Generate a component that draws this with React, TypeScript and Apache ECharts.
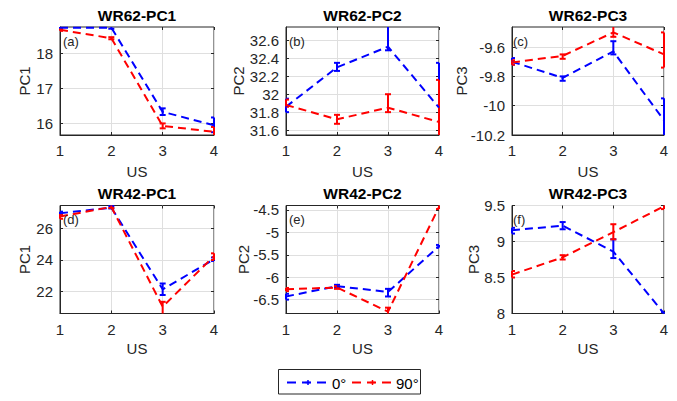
import React, { useEffect, useRef } from "react";
import * as echarts from "echarts";

// ---------- data ----------
const usLevels = [1, 2, 3, 4];

const panelTitles = ["WR62-PC1", "WR62-PC2", "WR62-PC3", "WR42-PC1", "WR42-PC2", "WR42-PC3"];
const panelYNames = ["PC1", "PC2", "PC3", "PC1", "PC2", "PC3"];
const panelLetters = ["(a)", "(b)", "(c)", "(d)", "(e)", "(f)"];
const legendNames = ["0°", "90°"];
const xAxisName = "US";

const yTicksA = [16, 17, 18];
const yTicksB = [31.6, 31.8, 32, 32.2, 32.4, 32.6];
const yTicksC = [-10.2, -10, -9.8, -9.6];
const yTicksD = [22, 24, 26];
const yTicksE = [-6.5, -6, -5.5, -5, -4.5];
const yTicksF = [8, 8.5, 9, 9.5];

const yLimitsA = [15.67, 18.75];
const yLimitsB = [31.545, 32.75];
const yLimitsC = [-10.2, -9.463];
const yLimitsD = [20.6, 27.44];
const yLimitsE = [-6.81, -4.4];
const yLimitsF = [8, 9.5];

// WR62-PC1
const wr62pc1Deg0 = [18.73, 18.73, 16.33, 15.95];
const wr62pc1Deg0Lo = [18.7, 18.7, 16.24, 15.75];
const wr62pc1Deg0Hi = [18.76, 18.76, 16.43, 16.17];
const wr62pc1Deg90 = [18.67, 18.43, 15.93, 15.76];
const wr62pc1Deg90Lo = [18.64, 18.4, 15.86, 15.6];
const wr62pc1Deg90Hi = [18.7, 18.46, 16.0, 15.9];

// WR62-PC2
const wr62pc2Deg0 = [31.86, 32.3, 32.53, 31.85];
const wr62pc2Deg0Lo = [31.8, 32.26, 32.49, 31.4];
const wr62pc2Deg0Hi = [31.95, 32.35, 32.8, 32.35];
const wr62pc2Deg90 = [31.88, 31.72, 31.85, 31.69];
const wr62pc2Deg90Lo = [31.86, 31.67, 31.8, 31.2];
const wr62pc2Deg90Hi = [31.94, 31.77, 32.0, 32.16];

// WR62-PC3
const wr62pc3Deg0 = [-9.7, -9.81, -9.63, -10.1];
const wr62pc3Deg0Lo = [-9.72, -9.83, -9.65, -10.25];
const wr62pc3Deg0Hi = [-9.675, -9.8, -9.56, -9.95];
const wr62pc3Deg90 = [-9.705, -9.66, -9.5, -9.65];
const wr62pc3Deg90Lo = [-9.72, -9.68, -9.53, -9.74];
const wr62pc3Deg90Hi = [-9.69, -9.65, -9.44, -9.5];

// WR42-PC1
const wr42pc1Deg0 = [26.95, 27.3, 22.13, 24.03];
const wr42pc1Deg0Lo = [26.85, 27.25, 21.77, 23.93];
const wr42pc1Deg0Hi = [27.05, 27.4, 22.5, 24.15];
const wr42pc1Deg90 = [26.74, 27.35, 21.03, 24.24];
const wr42pc1Deg90Lo = [26.6, 27.28, 20.5, 23.99];
const wr42pc1Deg90Hi = [26.9, 27.45, 21.34, 24.41];

// WR42-PC2
const wr42pc2Deg0 = [-6.43, -6.2, -6.33, -5.31];
const wr42pc2Deg0Lo = [-6.5, -6.24, -6.43, -5.34];
const wr42pc2Deg0Hi = [-6.37, -6.17, -6.26, -5.28];
const wr42pc2Deg90 = [-6.27, -6.23, -6.77, -4.43];
const wr42pc2Deg90Lo = [-6.31, -6.26, -6.85, -4.48];
const wr42pc2Deg90Hi = [-6.24, -6.2, -6.68, -4.35];

// WR42-PC3
const wr42pc3Deg0 = [9.156, 9.22, 8.86, 8.0];
const wr42pc3Deg0Lo = [9.11, 9.17, 8.77, 7.98];
const wr42pc3Deg0Hi = [9.19, 9.27, 9.03, 8.02];
const wr42pc3Deg90 = [8.54, 8.78, 9.13, 9.49];
const wr42pc3Deg90Lo = [8.5, 8.75, 9.03, 9.45];
const wr42pc3Deg90Hi = [8.59, 8.81, 9.24, 9.52];

const yTicksAll = [yTicksA, yTicksB, yTicksC, yTicksD, yTicksE, yTicksF];
const yLimitsAll = [yLimitsA, yLimitsB, yLimitsC, yLimitsD, yLimitsE, yLimitsF];
const deg0All = [wr62pc1Deg0, wr62pc2Deg0, wr62pc3Deg0, wr42pc1Deg0, wr42pc2Deg0, wr42pc3Deg0];
const deg0LoAll = [wr62pc1Deg0Lo, wr62pc2Deg0Lo, wr62pc3Deg0Lo, wr42pc1Deg0Lo, wr42pc2Deg0Lo, wr42pc3Deg0Lo];
const deg0HiAll = [wr62pc1Deg0Hi, wr62pc2Deg0Hi, wr62pc3Deg0Hi, wr42pc1Deg0Hi, wr42pc2Deg0Hi, wr42pc3Deg0Hi];
const deg90All = [wr62pc1Deg90, wr62pc2Deg90, wr62pc3Deg90, wr42pc1Deg90, wr42pc2Deg90, wr42pc3Deg90];
const deg90LoAll = [wr62pc1Deg90Lo, wr62pc2Deg90Lo, wr62pc3Deg90Lo, wr42pc1Deg90Lo, wr42pc2Deg90Lo, wr42pc3Deg90Lo];
const deg90HiAll = [wr62pc1Deg90Hi, wr62pc2Deg90Hi, wr62pc3Deg90Hi, wr42pc1Deg90Hi, wr42pc2Deg90Hi, wr42pc3Deg90Hi];

// ---------- styling / layout ----------
const FONT = "'Liberation Sans', Arial, Helvetica, sans-serif";
const AXIS_COLOR = "#262626";
const GRID_COLOR = "#dfdfdf";
const BLUE = "#0000ff";
const RED = "#ff0000";
const DASH = [8, 5];

const colLeft = [60, 286, 512];
const colWidth = [154, 153, 152];
const rowTop = [27, 205.5];
const rowHeight = 108;
const titleY = [15, 193.5];
const usLabelY = [171.5, 348];
const yNameX = [[24.5, 238.5, 461], [24.5, 243.5, 473]];
const letterX = [63, 289, 513];
const letterY = [41.5, 219];

function makeErrRender(color: string, yMin: number, yMax: number) {
  return (params: any, api: any) => {
    const x = api.value(0);
    const loRaw = api.value(1);
    const hiRaw = api.value(2);
    const lo = Math.max(yMin, loRaw);
    const hi = Math.min(yMax, hiRaw);
    const pLo = api.coord([x, lo]);
    const pHi = api.coord([x, hi]);
    const cs = params.coordSys;
    const cap = 3;
    const cl = (v: number) => Math.max(cs.x, Math.min(cs.x + cs.width, v));
    const style = { stroke: color, lineWidth: 2, fill: "none" };
    const children: any[] = [
      { type: "line", shape: { x1: pLo[0], y1: pLo[1], x2: pHi[0], y2: pHi[1] }, style },
    ];
    if (loRaw >= yMin) {
      children.push({ type: "line", shape: { x1: cl(pLo[0] - cap), y1: pLo[1], x2: cl(pLo[0] + cap), y2: pLo[1] }, style });
    }
    if (hiRaw <= yMax) {
      children.push({ type: "line", shape: { x1: cl(pHi[0] - cap), y1: pHi[1], x2: cl(pHi[0] + cap), y2: pHi[1] }, style });
    }
    return { type: "group", children };
  };
}

function buildOption() {
  const grids: any[] = [];
  const xAxes: any[] = [];
  const yAxes: any[] = [];
  const xAxesMirror: any[] = [];
  const yAxesMirror: any[] = [];
  const series: any[] = [];
  const graphics: any[] = [];

  for (let i = 0; i < 6; i++) {
    const r = Math.floor(i / 3);
    const c = i % 3;
    grids.push({
      left: colLeft[c],
      top: rowTop[r],
      width: colWidth[c],
      height: rowHeight,
      show: true,
      borderColor: AXIS_COLOR,
      borderWidth: 1,
      backgroundColor: "#ffffff",
    });
    const xBase = {
      type: "value",
      gridIndex: i,
      min: 1,
      max: 4,
      interval: 1,
    };
    xAxes.push({
      ...xBase,
      position: "bottom",
      axisLine: { show: true, onZero: false, lineStyle: { color: AXIS_COLOR, width: 1 } },
      axisTick: { show: true, inside: true, length: 3, lineStyle: { color: AXIS_COLOR } },
      axisLabel: { color: AXIS_COLOR, fontSize: 15, margin: 8, fontFamily: FONT },
      splitLine: { show: true, lineStyle: { color: GRID_COLOR, width: 1 } },
    });
    xAxesMirror.push({
      ...xBase,
      position: "top",
      axisLine: { show: false, onZero: false },
      axisTick: { show: true, inside: true, length: 3, lineStyle: { color: AXIS_COLOR } },
      axisLabel: { show: false },
      splitLine: { show: false },
    });
    const yBase = {
      type: "value",
      gridIndex: i,
      min: yLimitsAll[i][0],
      max: yLimitsAll[i][1],
    };
    yAxes.push({
      ...yBase,
      position: "left",
      axisLine: { show: true, onZero: false, lineStyle: { color: AXIS_COLOR, width: 1 } },
      axisTick: { show: true, inside: true, length: 3, lineStyle: { color: AXIS_COLOR }, customValues: yTicksAll[i] },
      axisLabel: { color: AXIS_COLOR, fontSize: 15, margin: 7, fontFamily: FONT, customValues: yTicksAll[i] },
      splitLine: { show: true, lineStyle: { color: GRID_COLOR, width: 1 } },
    });
    yAxesMirror.push({
      ...yBase,
      position: "right",
      axisLine: { show: false, onZero: false },
      axisTick: { show: true, inside: true, length: 3, lineStyle: { color: AXIS_COLOR }, customValues: yTicksAll[i] },
      axisLabel: { show: false, customValues: yTicksAll[i] },
      splitLine: { show: false },
    });

    const groups = [
      { name: legendNames[0], color: BLUE, v: deg0All[i], lo: deg0LoAll[i], hi: deg0HiAll[i] },
      { name: legendNames[1], color: RED, v: deg90All[i], lo: deg90LoAll[i], hi: deg90HiAll[i] },
    ];
    groups.forEach((g) => {
      series.push({
        type: "line",
        name: g.name,
        xAxisIndex: i,
        yAxisIndex: i,
        data: usLevels.map((x, k) => [x, g.v[k]]),
        symbol: "none",
        color: g.color,
        lineStyle: { color: g.color, width: 2, type: DASH },
        clip: true,
        silent: true,
        z: 3,
      });
      series.push({
        type: "custom",
        name: g.name,
        xAxisIndex: i,
        yAxisIndex: i,
        data: usLevels.map((x, k) => [x, g.lo[k], g.hi[k]]),
        encode: { x: 0, y: [1, 2] },
        renderItem: makeErrRender(g.color, yLimitsAll[i][0], yLimitsAll[i][1]),
        clip: false,
        silent: true,
        z: 3,
      });
    });

    const cx = colLeft[c] + colWidth[c] / 2;
    graphics.push({
      type: "text",
      x: cx,
      y: titleY[r],
      silent: true,
      style: { text: panelTitles[i], fontSize: 15.5, fontWeight: "bold", fontFamily: FONT, fill: "#000000", textAlign: "center", textVerticalAlign: "middle" },
    });
    graphics.push({
      type: "text",
      x: cx,
      y: usLabelY[r],
      silent: true,
      style: { text: xAxisName, fontSize: 15, fontFamily: FONT, fill: AXIS_COLOR, textAlign: "center", textVerticalAlign: "middle" },
    });
    graphics.push({
      type: "text",
      x: yNameX[r][c],
      y: rowTop[r] + rowHeight / 2,
      rotation: Math.PI / 2,
      silent: true,
      style: { text: panelYNames[i], fontSize: 15, fontFamily: FONT, fill: AXIS_COLOR, textAlign: "center", textVerticalAlign: "middle" },
    });
    graphics.push({
      type: "text",
      x: letterX[c],
      y: letterY[r],
      silent: true,
      z: 10,
      style: { text: panelLetters[i], fontSize: 13, fontFamily: FONT, fill: AXIS_COLOR, textAlign: "left", textVerticalAlign: "middle" },
    });
  }

  // legend
  const ly = 382.5;
  graphics.push({
    type: "rect",
    silent: true,
    shape: { x: 278.5, y: 369.5, width: 142, height: 24.5 },
    style: { fill: "#ffffff", stroke: AXIS_COLOR, lineWidth: 1 },
  });
  const legendItems = [
    { x0: 287, x1: 329, tx: 332, color: BLUE, name: legendNames[0] },
    { x0: 352, x1: 393, tx: 396, color: RED, name: legendNames[1] },
  ];
  legendItems.forEach((it) => {
    const mid = (it.x0 + it.x1) / 2;
    graphics.push({
      type: "line",
      silent: true,
      shape: { x1: it.x0, y1: ly, x2: it.x1, y2: ly },
      style: { stroke: it.color, lineWidth: 2, lineDash: [9, 6] },
    });
    graphics.push({
      type: "line",
      silent: true,
      shape: { x1: mid - 2.5, y1: ly, x2: mid + 2.5, y2: ly },
      style: { stroke: it.color, lineWidth: 1.5 },
    });
    graphics.push({
      type: "line",
      silent: true,
      shape: { x1: mid, y1: ly - 2.5, x2: mid, y2: ly + 2.5 },
      style: { stroke: it.color, lineWidth: 1.5 },
    });
    graphics.push({
      type: "text",
      silent: true,
      x: it.tx,
      y: ly + 1,
      style: { text: it.name, fontSize: 15, fontFamily: FONT, fill: "#000000", textAlign: "left", textVerticalAlign: "middle" },
    });
  });

  return {
    animation: false,
    backgroundColor: "#ffffff",
    textStyle: { fontFamily: FONT },
    grid: grids,
    xAxis: [...xAxes, ...xAxesMirror],
    yAxis: [...yAxes, ...yAxesMirror],
    series,
    graphic: graphics,
  };
}

export default function App() {
  const ref = useRef<HTMLDivElement>(null);
  useEffect(() => {
    if (!ref.current) return;
    const chart = echarts.init(ref.current, null, { renderer: "svg" });
    chart.setOption(buildOption() as any);
    return () => chart.dispose();
  }, []);
  return (
    <div
      ref={ref}
      style={{ position: "fixed", left: 0, top: 0, width: 677, height: 401, background: "#ffffff" }}
    />
  );
}
